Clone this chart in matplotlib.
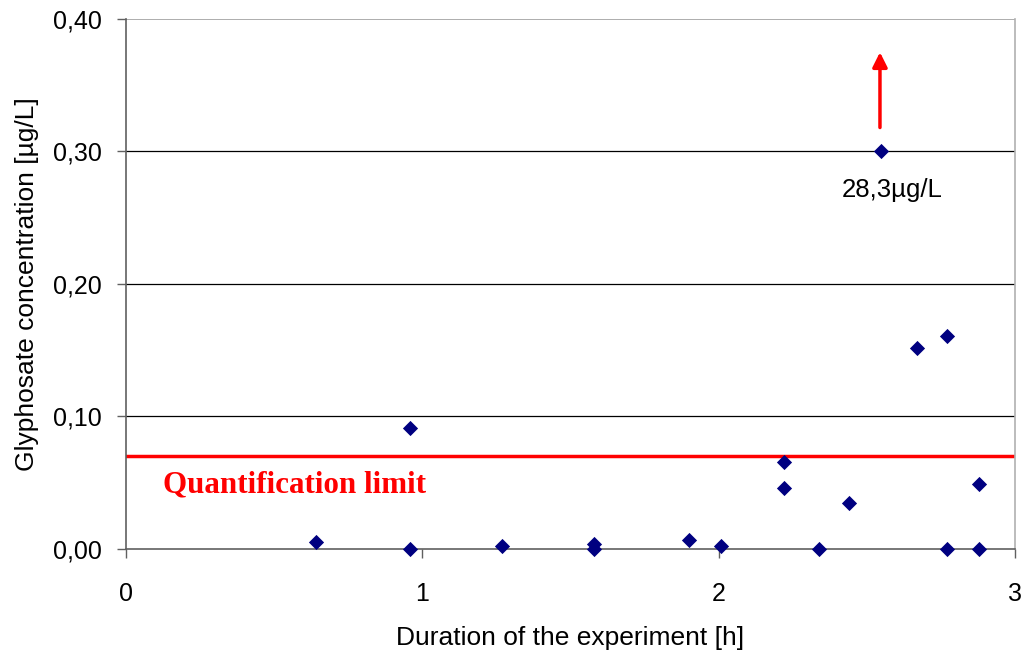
import matplotlib.pyplot as plt
from matplotlib.ticker import FuncFormatter

plt.rcParams['font.family'] = ['Liberation Sans', 'DejaVu Sans']

# glyphosate measurements: time [h] and concentration [ug/L]
hours = [0.64, 0.96, 0.96, 1.27, 1.58, 1.58, 1.90, 2.01, 2.22, 2.22,
         2.34, 2.44, 2.55, 2.67, 2.77, 2.77, 2.88, 2.88]
conc = [0.005, 0.0, 0.091, 0.002, 0.004, 0.0, 0.007, 0.002, 0.066, 0.046,
        0.0, 0.035, 0.30, 0.152, 0.161, 0.0, 0.049, 0.0]

quant_limit = 0.07
outlier_label = '28,3µg/L'
y_ticks = [0.0, 0.1, 0.2, 0.3, 0.4]
x_ticks = [0, 1, 2, 3]

fig = plt.figure(figsize=(10.25, 6.57), dpi=100)
ax = fig.add_axes([0.123, 0.1644, 0.867, 0.8067])

for yv in y_ticks[1:4]:
    ax.axhline(yv, color='black', lw=0.9, zorder=1)
ax.axhline(y_ticks[-1], color='#a0a0a0', lw=1.2, zorder=1)

ax.axhline(quant_limit, color='red', lw=2.5, zorder=2)
ax.text(0.125, quant_limit - 0.022, 'Quantification limit', color='red',
        fontsize=22.3, fontweight='bold', family='Liberation Serif',
        va='center', ha='left')

ax.scatter(hours, conc, marker='D', s=60, color='#000080', zorder=3,
           clip_on=False, linewidths=0)

# the 0.30 point stands for a much larger value
ax.annotate('', xy=(2.545, 0.377), xytext=(2.545, 0.316),
            arrowprops=dict(arrowstyle='-|>', color='red', lw=2.5,
                            mutation_scale=22))
ax.text(2.585, 0.271, outlier_label, ha='center', va='center', fontsize=18.5)

ax.set_xlim(0, 3)
ax.set_ylim(0, 0.4)
ax.set_xticks(x_ticks)
ax.set_yticks(y_ticks)
ax.yaxis.set_major_formatter(FuncFormatter(lambda v, p: f'{v:.2f}'.replace('.', ',')))
ax.tick_params(axis='both', labelsize=18, direction='out', length=6.5,
               color='#606060', width=1)
ax.tick_params(axis='x', pad=17.5)
ax.tick_params(axis='y', pad=11)

ax.spines['left'].set_color('#606060')
ax.spines['bottom'].set_color('#606060')
ax.spines['right'].set_color('#b0b0b0')
ax.spines['top'].set_visible(False)
for s in ax.spines.values():
    s.set_linewidth(1.2)

ax.set_xlabel('Duration of the experiment [h]', fontsize=19, labelpad=14)
ax.set_ylabel('Glyphosate concentration [µg/L]', fontsize=19, labelpad=10)

plt.savefig('out.png', dpi=100)
